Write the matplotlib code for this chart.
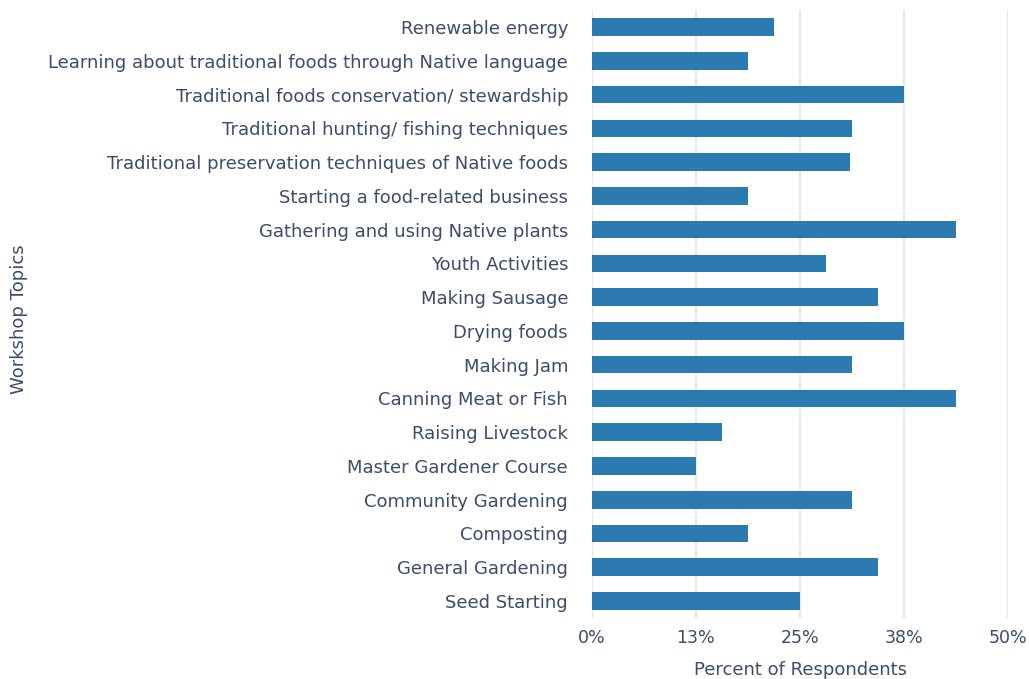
import matplotlib
matplotlib.use("Agg")
import matplotlib.pyplot as plt
from matplotlib.ticker import FixedLocator, FixedFormatter

# Workshop topics, top to bottom as listed in the survey chart
topics = [
    "Renewable energy",
    "Learning about traditional foods through Native language",
    "Traditional foods conservation/ stewardship",
    "Traditional hunting/ fishing techniques",
    "Traditional preservation techniques of Native foods",
    "Starting a food-related business",
    "Gathering and using Native plants",
    "Youth Activities",
    "Making Sausage",
    "Drying foods",
    "Making Jam",
    "Canning Meat or Fish",
    "Raising Livestock",
    "Master Gardener Course",
    "Community Gardening",
    "Composting",
    "General Gardening",
    "Seed Starting",
]
percent = [21.9, 18.75, 37.5, 31.25, 31.0, 18.75, 43.75, 28.1, 34.4, 37.5,
           31.25, 43.75, 15.6, 12.5, 31.25, 18.75, 34.4, 25.0]

tick_vals = [0, 12.5, 25, 37.5, 50]
tick_labels = ["0%", "13%", "25%", "38%", "50%"]

TEXT = "#3b4d6b"
BAR = "#2b7bb0"
GRID = "#e2e5eb"

plt.rcParams["font.family"] = ["DejaVu Sans"]

fig = plt.figure(figsize=(10.29, 6.79), dpi=100)
ax = fig.add_axes([0.575, 0.09, 0.405, 0.895])

ypos = list(range(len(topics)))
ax.barh(ypos, percent, height=0.52, color=BAR, zorder=3)
ax.set_ylim(len(topics) - 0.5, -0.5)
ax.set_xlim(0, 50)

ax.set_yticks(ypos)
ax.set_yticklabels(topics, fontsize=13, color=TEXT)
ax.xaxis.set_major_locator(FixedLocator(tick_vals))
ax.xaxis.set_major_formatter(FixedFormatter(tick_labels))
ax.tick_params(axis="x", labelsize=12.5, labelcolor=TEXT, length=0, pad=8)
ax.tick_params(axis="y", length=0, pad=17)

ax.grid(axis="x", color=GRID, linewidth=1.3, zorder=0)
for s in ax.spines.values():
    s.set_visible(False)

ax.set_xlabel("Percent of Respondents", fontsize=13, color=TEXT, labelpad=10)
fig.text(0.018, 0.53, "Workshop Topics", rotation=90, fontsize=13,
         color=TEXT, ha="center", va="center")

fig.savefig("out.png", dpi=100)
